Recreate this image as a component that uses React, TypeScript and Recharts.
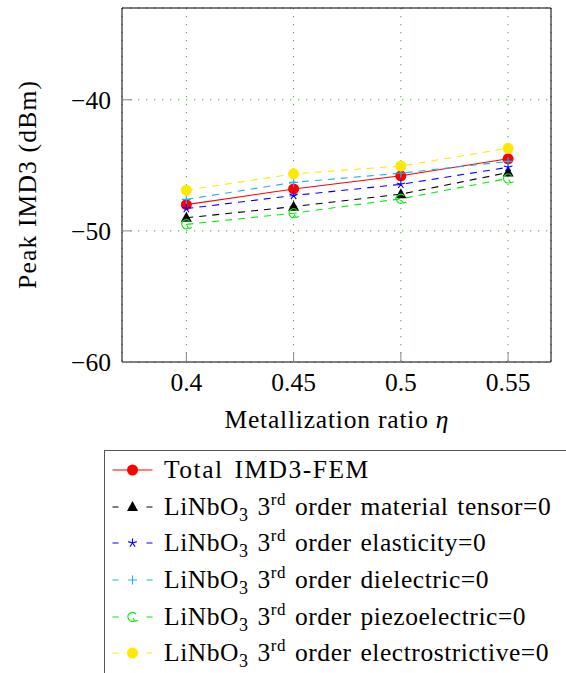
import React from "react";
import {
  CartesianGrid,
  ComposedChart,
  Legend,
  Line,
  XAxis,
  YAxis,
} from "recharts";

// metallization ratio on x, peak IMD3 in dBm on y
const etaValues = [0.4, 0.45, 0.5, 0.55];
const totalImd3Fem = [-48.0, -46.8, -45.8, -44.5];
const tensorOff = [-49.0, -48.15, -47.2, -45.55];
const elasticityOff = [-48.3, -47.3, -46.45, -45.15];
const dielectricOff = [-47.6, -46.3, -45.6, -44.7];
const piezoelectricOff = [-49.5, -48.65, -47.55, -46.0];
const electrostrictiveOff = [-46.9, -45.65, -45.05, -43.7];

const xTicks = [0.4, 0.45, 0.5, 0.55];
const yTicks = [-60, -50, -40];

const FONT = '"Liberation Serif", "Times New Roman", serif';

type Mark = "circle" | "triangle" | "star" | "plus" | "hook";

const series: {
  key: string;
  values: number[];
  color: string;
  mark: Mark;
  dashed: boolean;
  term: string | null;
}[] = [
  { key: "total", values: totalImd3Fem, color: "#ff0000", mark: "circle", dashed: false, term: null },
  { key: "tensor", values: tensorOff, color: "#000000", mark: "triangle", dashed: true, term: "material tensor" },
  { key: "elasticity", values: elasticityOff, color: "#0000ff", mark: "star", dashed: true, term: "elasticity" },
  { key: "dielectric", values: dielectricOff, color: "#1fb0f0", mark: "plus", dashed: true, term: "dielectric" },
  { key: "piezo", values: piezoelectricOff, color: "#00ee00", mark: "hook", dashed: true, term: "piezoelectric" },
  { key: "electro", values: electrostrictiveOff, color: "#ffe900", mark: "circle", dashed: true, term: "electrostrictive" },
];

const data = etaValues.map((eta, i) => {
  const row: Record<string, number> = { eta };
  series.forEach((s) => (row[s.key] = s.values[i]));
  return row;
});

function shape(kind: Mark, x: number, y: number, c: string) {
  switch (kind) {
    case "circle":
      return <circle cx={x} cy={y} r={5.5} fill={c} />;
    case "triangle":
      return (
        <polygon
          points={`${x},${y - 6} ${x - 5.5},${y + 4} ${x + 5.5},${y + 4}`}
          fill={c}
        />
      );
    case "star": {
      const r = 4.5;
      let d = "";
      for (let k = 0; k < 5; k++) {
        const a = ((90 + k * 72) * Math.PI) / 180;
        d += `M${x},${y}L${x + r * Math.cos(a)},${y - r * Math.sin(a)}`;
      }
      return <path d={d} stroke={c} strokeWidth={1.1} fill="none" />;
    }
    case "plus":
      return (
        <path
          d={`M${x - 4.5},${y}H${x + 4.5}M${x},${y - 4.5}V${y + 4.5}`}
          stroke={c}
          strokeWidth={1.1}
        />
      );
    case "hook": {
      const r = 4.5;
      const a0 = (-40 * Math.PI) / 180;
      const a1 = (70 * Math.PI) / 180;
      const sx = x + r * Math.cos(a0);
      const sy = y + r * Math.sin(a0);
      const ex = x + r * Math.cos(a1);
      const ey = y + r * Math.sin(a1);
      return (
        <path
          d={`M${sx},${sy}A${r},${r} 0 1 0 ${ex},${ey}M${ex - 1},${ey - 3}L${ex + 1},${ey}L${ex + 4},${ey - 1}`}
          stroke={c}
          strokeWidth={1.1}
          fill="none"
        />
      );
    }
  }
}

const dotFor = (kind: Mark, color: string) => (p: any) => {
  const { cx, cy, index } = p;
  if (cx == null || cy == null) return <g key={`${kind}-${index}`} />;
  return <g key={`${kind}-${color}-${index}`}>{shape(kind, cx, cy, color)}</g>;
};

const fmtTick = (v: number) => (v < 0 ? `\u2212${Math.abs(v)}` : `${v}`);

function SeriesLabel({ term }: { term: string | null }) {
  if (!term)
    return (
      <span style={{ wordSpacing: 3, letterSpacing: 1.5 }}>Total IMD3-FEM</span>
    );
  return (
    <span style={{ wordSpacing: 2, letterSpacing: 0.55 }}>
      LiNbO
      <span style={{ fontSize: 18, position: "relative", top: 6 }}>3</span>{" "}
      3<span style={{ fontSize: 17, position: "relative", top: -10 }}>rd</span>{" "}
      order {term}=0
    </span>
  );
}

function LegendBox() {
  return (
    <div
      style={{
        border: "1.5px solid #555",
        background: "#fff",
        boxSizing: "border-box",
        width: 480,
        height: 240,
        paddingTop: 1,
        fontFamily: FONT,
        fontSize: 25.5,
        color: "#000",
        textAlign: "left",
      }}
    >
      {series.map((s) => (
        <div
          key={s.key}
          style={{
            display: "flex",
            alignItems: "center",
            height: 36.6,
            whiteSpace: "nowrap",
          }}
        >
          <svg width={59} height={20} style={{ flex: "none" }}>
            {s.dashed ? (
              <path
                d="M7.5,10H13.5M41.5,10H47.5"
                stroke={s.color}
                strokeWidth={1.1}
              />
            ) : (
              <path d="M7.5,10H47.5" stroke={s.color} strokeWidth={1.1} />
            )}
            {shape(s.mark, 27.5, 10, s.color)}
          </svg>
          <SeriesLabel term={s.term} />
        </div>
      ))}
    </div>
  );
}

export default function App() {
  return (
    <div
      style={{
        position: "absolute",
        left: 0,
        top: 0,
        width: 566,
        height: 673,
        overflow: "hidden",
        background: "#fff",
      }}
    >
      <ComposedChart
        width={566}
        height={673}
        data={data}
        margin={{ top: 7, right: 14, bottom: 251, left: 0 }}
        style={{ fontFamily: FONT }}
      >
        <CartesianGrid
          stroke="#3fa83f"
          strokeDasharray="1.3 6.7"
          strokeWidth={1}
        />
        <XAxis
          dataKey="eta"
          type="number"
          domain={[0.37, 0.57]}
          ticks={xTicks}
          tickFormatter={fmtTick}
          height={60}
          tickSize={-10}
          tickMargin={21}
          tick={{ fill: "#000", fontSize: 25.5, fontFamily: FONT }}
          tickLine={{ stroke: "#888" }}
          axisLine={{ stroke: "#000" }}
          allowDataOverflow
          label={{
            content: (p: any) => {
              const vb = p.viewBox || {};
              const cx = (vb.x ?? 122) + (vb.width ?? 429) / 2;
              return (
                <text
                  x={cx}
                  y={428}
                  textAnchor="middle"
                  fontFamily={FONT}
                  fontSize={25.5}
                  fill="#000"
                  textLength={224}
                  lengthAdjust="spacing"
                >
                  Metallization ratio{" "}
                  <tspan fontStyle="italic">η</tspan>
                </text>
              );
            },
          }}
        />
        <XAxis
          xAxisId="top"
          dataKey="eta"
          type="number"
          orientation="top"
          domain={[0.37, 0.57]}
          ticks={xTicks}
          height={1}
          tick={false}
          tickSize={-10}
          tickLine={{ stroke: "#888" }}
          axisLine={{ stroke: "#000" }}
          allowDataOverflow
        />
        <YAxis
          type="number"
          domain={[-60, -33]}
          ticks={yTicks}
          tickFormatter={fmtTick}
          width={122}
          tickSize={-10}
          tickMargin={21}
          tick={{ fill: "#000", fontSize: 25.5, fontFamily: FONT }}
          tickLine={{ stroke: "#888" }}
          axisLine={{ stroke: "#000" }}
          allowDataOverflow
          label={{
            content: (p: any) => {
              const vb = p.viewBox || {};
              const cy = (vb.y ?? 8) + (vb.height ?? 354) / 2;
              return (
                <text
                  x={36}
                  y={cy}
                  transform={`rotate(-90, 36, ${cy})`}
                  textAnchor="middle"
                  fontFamily={FONT}
                  fontSize={25.5}
                  fill="#000"
                  textLength={208}
                  lengthAdjust="spacing"
                >
                  Peak IMD3 (dBm)
                </text>
              );
            },
          }}
        />
        <YAxis
          yAxisId="right"
          type="number"
          orientation="right"
          domain={[-60, -33]}
          ticks={yTicks}
          width={1}
          tick={false}
          tickSize={-10}
          tickLine={{ stroke: "#888" }}
          axisLine={{ stroke: "#000" }}
          allowDataOverflow
        />
        {series.map((s) => (
          <Line
            key={s.key}
            dataKey={s.key}
            type="linear"
            stroke={s.color}
            strokeWidth={1.1}
            strokeDasharray={s.dashed ? "7 6" : undefined}
            dot={dotFor(s.mark, s.color)}
            activeDot={false}
            isAnimationActive={false}
          />
        ))}
        <Legend
          layout="horizontal"
          verticalAlign="middle"
          align="center"
          content={() => <LegendBox />}
          wrapperStyle={{ position: "absolute", left: 104, top: 450, width: 480 }}
        />
      </ComposedChart>
    </div>
  );
}
